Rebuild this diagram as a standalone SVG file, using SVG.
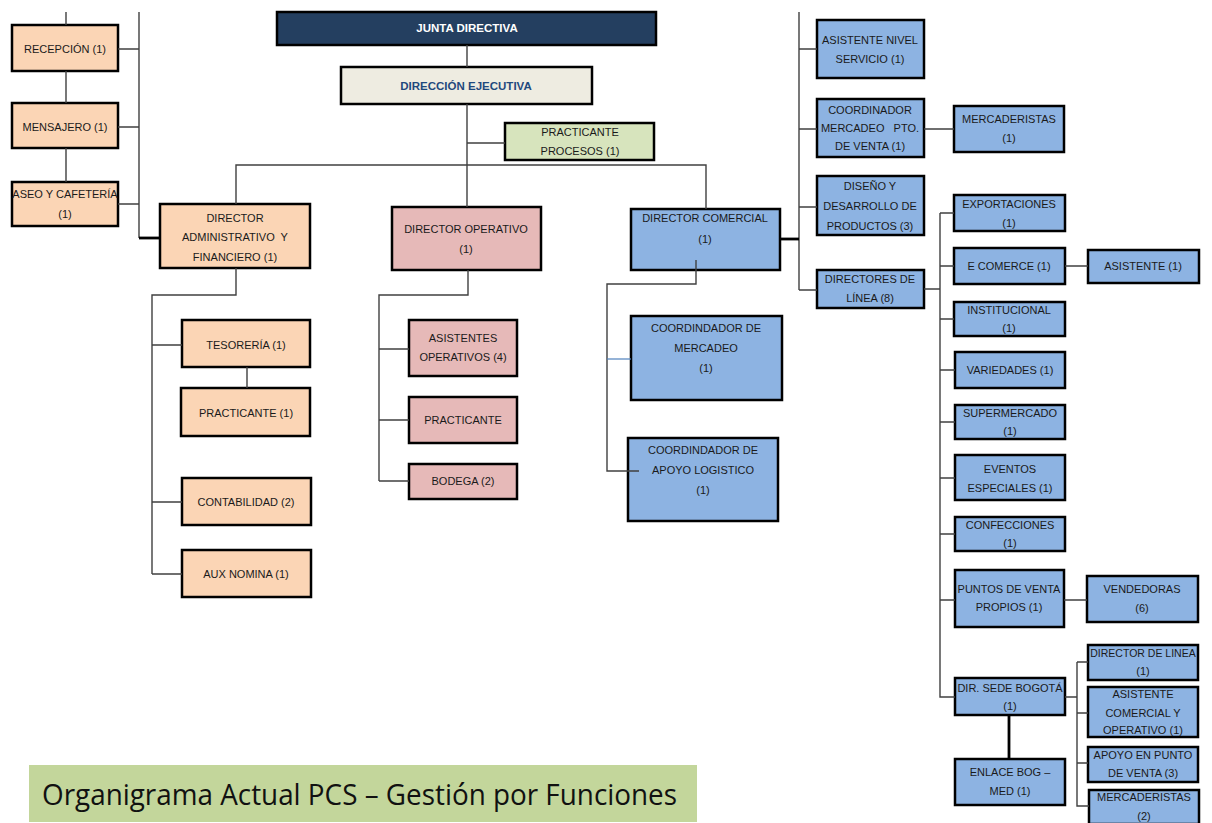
<svg xmlns="http://www.w3.org/2000/svg" width="1212" height="823" viewBox="0 0 1212 823">
<style>
.b{stroke:#000;stroke-width:2.5}
.pe{fill:#FBD5B5}.pk{fill:#E6B9B8}.bl{fill:#8DB3E2}.gr{fill:#D7E4BD}.lt{fill:#EEECE1}.nv{fill:#243F60}
.t{font-family:"Liberation Sans",Arial,sans-serif;font-size:11px;text-anchor:middle;fill:#1a1a1a;white-space:pre}
.c{fill:none;stroke:#404040;stroke-width:1.4}
.k{fill:none;stroke:#000;stroke-width:2.8}
</style>
<rect width="1212" height="823" fill="#fff"/>
<g id="n-recepcion"><rect class="b pe" x="12" y="25" width="106" height="46"/><text class="t" x="65" y="53">RECEPCIÓN (1)</text></g>
<g id="n-mensajero"><rect class="b pe" x="12" y="103" width="106" height="45"/><text class="t" x="65" y="131">MENSAJERO (1)</text></g>
<g id="n-aseo"><rect class="b pe" x="12" y="182" width="106" height="44"/><text class="t" x="65" y="198">ASEO Y CAFETERÍA</text><text class="t" x="65" y="218">(1)</text></g>
<g id="n-dir-admin"><rect class="b pe" x="160" y="204" width="150" height="64"/><text class="t" x="235" y="222">DIRECTOR</text><text class="t" x="235" y="241" xml:space="preserve">ADMINISTRATIVO  Y</text><text class="t" x="235" y="261">FINANCIERO (1)</text></g>
<g id="n-junta"><rect class="b nv" x="277" y="12" width="379" height="33"/><text class="t" x="467" y="32" style="fill:#fff;font-weight:bold;font-size:11.5px">JUNTA DIRECTIVA</text></g>
<g id="n-dir-ejecutiva"><rect class="b lt" x="341" y="67" width="251" height="37"/><text class="t" x="466" y="90" style="fill:#1F497D;font-weight:bold;font-size:11.5px">DIRECCIÓN EJECUTIVA</text></g>
<g id="n-practicante-procesos"><rect class="b gr" x="505" y="123" width="149" height="37"/><text class="t" x="580" y="136">PRACTICANTE</text><text class="t" x="580" y="155">PROCESOS (1)</text></g>
<g id="n-dir-operativo"><rect class="b pk" x="392" y="207" width="149" height="63"/><text class="t" x="466" y="233">DIRECTOR OPERATIVO</text><text class="t" x="466" y="253">(1)</text></g>
<g id="n-dir-comercial"><rect class="b bl" x="631" y="209" width="149" height="61"/><text class="t" x="705" y="222">DIRECTOR COMERCIAL</text><text class="t" x="705" y="243">(1)</text></g>
<g id="n-tesoreria"><rect class="b pe" x="182" y="320" width="128" height="47"/><text class="t" x="246" y="349">TESORERÍA (1)</text></g>
<g id="n-practicante-1"><rect class="b pe" x="181" y="388" width="129" height="48"/><text class="t" x="246" y="417">PRACTICANTE (1)</text></g>
<g id="n-contabilidad"><rect class="b pe" x="182" y="478" width="129" height="47"/><text class="t" x="246" y="506">CONTABILIDAD (2)</text></g>
<g id="n-aux-nomina"><rect class="b pe" x="182" y="550" width="129" height="47"/><text class="t" x="246" y="578">AUX NOMINA (1)</text></g>
<g id="n-asist-operativos"><rect class="b pk" x="409" y="320" width="108" height="56"/><text class="t" x="463" y="342">ASISTENTES</text><text class="t" x="463" y="361">OPERATIVOS (4)</text></g>
<g id="n-practicante-op"><rect class="b pk" x="409" y="397" width="108" height="46"/><text class="t" x="463" y="424">PRACTICANTE</text></g>
<g id="n-bodega"><rect class="b pk" x="409" y="464" width="108" height="35"/><text class="t" x="463" y="485">BODEGA (2)</text></g>
<g id="n-coord-mercadeo"><rect class="b bl" x="631" y="316" width="151" height="84"/><text class="t" x="706" y="332">COORDINDADOR DE</text><text class="t" x="706" y="352">MERCADEO</text><text class="t" x="706" y="372">(1)</text></g>
<g id="n-coord-apoyo"><rect class="b bl" x="628" y="438" width="150" height="83"/><text class="t" x="703" y="454">COORDINDADOR DE</text><text class="t" x="703" y="474">APOYO LOGISTICO</text><text class="t" x="703" y="494">(1)</text></g>
<g id="n-asist-nivel"><rect class="b bl" x="817" y="20" width="107" height="58"/><text class="t" x="870" y="44">ASISTENTE NIVEL</text><text class="t" x="870" y="63">SERVICIO (1)</text></g>
<g id="n-coord-pto"><rect class="b bl" x="817" y="99" width="107" height="58"/><text class="t" x="870" y="114">COORDINADOR</text><text class="t" x="870" y="132" xml:space="preserve">MERCADEO   PTO.</text><text class="t" x="870" y="150">DE VENTA (1)</text></g>
<g id="n-mercaderistas-1"><rect class="b bl" x="954" y="106" width="110" height="46"/><text class="t" x="1009" y="123">MERCADERISTAS</text><text class="t" x="1009" y="142">(1)</text></g>
<g id="n-diseno"><rect class="b bl" x="817" y="176" width="107" height="59"/><text class="t" x="870" y="190">DISEÑO Y</text><text class="t" x="870" y="210">DESARROLLO DE</text><text class="t" x="870" y="230">PRODUCTOS (3)</text></g>
<g id="n-directores-linea"><rect class="b bl" x="817" y="270" width="107" height="38"/><text class="t" x="870" y="283">DIRECTORES DE</text><text class="t" x="870" y="302">LÍNEA (8)</text></g>
<g id="n-exportaciones"><rect class="b bl" x="954" y="195" width="111" height="36"/><text class="t" x="1009" y="208">EXPORTACIONES</text><text class="t" x="1009" y="227">(1)</text></g>
<g id="n-ecomerce"><rect class="b bl" x="954" y="248" width="111" height="36"/><text class="t" x="1009" y="270">E COMERCE (1)</text></g>
<g id="n-asistente-1"><rect class="b bl" x="1088" y="250" width="111" height="33"/><text class="t" x="1143" y="270">ASISTENTE (1)</text></g>
<g id="n-institucional"><rect class="b bl" x="954" y="302" width="111" height="34"/><text class="t" x="1009" y="314">INSTITUCIONAL</text><text class="t" x="1009" y="332">(1)</text></g>
<g id="n-variedades"><rect class="b bl" x="955" y="352" width="110" height="36"/><text class="t" x="1010" y="374">VARIEDADES (1)</text></g>
<g id="n-supermercado"><rect class="b bl" x="955" y="405" width="110" height="34"/><text class="t" x="1010" y="417">SUPERMERCADO</text><text class="t" x="1010" y="435">(1)</text></g>
<g id="n-eventos"><rect class="b bl" x="955" y="455" width="110" height="45"/><text class="t" x="1010" y="473">EVENTOS</text><text class="t" x="1010" y="492">ESPECIALES (1)</text></g>
<g id="n-confecciones"><rect class="b bl" x="955" y="517" width="110" height="34"/><text class="t" x="1010" y="529">CONFECCIONES</text><text class="t" x="1010" y="547">(1)</text></g>
<g id="n-puntos-venta"><rect class="b bl" x="955" y="570" width="109" height="57"/><text class="t" x="1009" y="593">PUNTOS DE VENTA</text><text class="t" x="1009" y="611">PROPIOS (1)</text></g>
<g id="n-vendedoras"><rect class="b bl" x="1087" y="576" width="111" height="46"/><text class="t" x="1142" y="593">VENDEDORAS</text><text class="t" x="1142" y="612">(6)</text></g>
<g id="n-dir-sede"><rect class="b bl" x="955" y="678" width="110" height="37"/><text class="t" x="1010" y="692">DIR. SEDE BOGOTÁ</text><text class="t" x="1010" y="710">(1)</text></g>
<g id="n-director-linea-1"><rect class="b bl" x="1088" y="645" width="110" height="35"/><text class="t" x="1143" y="657" style="font-size:10.5px">DIRECTOR DE LINEA</text><text class="t" x="1143" y="675">(1)</text></g>
<g id="n-asist-comercial"><rect class="b bl" x="1088" y="687" width="110" height="50"/><text class="t" x="1143" y="698">ASISTENTE</text><text class="t" x="1143" y="717">COMERCIAL Y</text><text class="t" x="1143" y="734">OPERATIVO (1)</text></g>
<g id="n-apoyo-punto"><rect class="b bl" x="1088" y="747" width="110" height="35"/><text class="t" x="1143" y="759">APOYO EN PUNTO</text><text class="t" x="1143" y="777">DE VENTA (3)</text></g>
<g id="n-mercaderistas-2"><rect class="b bl" x="1089" y="790" width="110" height="34"/><text class="t" x="1144" y="801">MERCADERISTAS</text><text class="t" x="1144" y="820">(2)</text></g>
<g id="n-enlace"><rect class="b bl" x="955" y="759" width="110" height="46"/><text class="t" x="1010" y="776">ENLACE BOG –</text><text class="t" x="1010" y="795">MED (1)</text></g>
<g id="connectors">
<path class="c" d="M66,12V25M66,71V103M66,148V182M139,12V238M118,49H139M118,127H139M118,204H139"/>
<path class="k" d="M139,238H160"/>
<path class="c" d="M236,204V165H706V209M467,45V67M467,104V207M467,143H505"/>
<path class="c" d="M236,268V295H152V574M152,345H182M152,502H182M152,574H182M247,367V388"/>
<path class="c" d="M468,270V295H379V481M379,349H409M379,420H409M379,481H409"/>
<path class="c" d="M696,260V284H607V471H639"/>
<path d="M607,359H631" fill="none" stroke="#4F81BD" stroke-width="1.2"/>
<path class="c" d="M799,12V290M799,49H817M799,129H817M924,129H954M799,207H817M799,290H817"/>
<path class="k" d="M780,239H799"/>
<path class="c" d="M924,289H940M940,213V697H955M940,213H954M940,266H954M1065,266H1088M940,319H954M940,370H955M940,422H955M940,478H955M940,534H955M940,600H955M1064,600H1087"/>
<path class="c" d="M1065,697H1077M1077,662V806H1089M1077,662H1088M1077,713H1088M1077,763H1088"/>
<path class="k" d="M1009,715V759"/>
</g>
<g id="title"><rect x="29" y="765" width="668" height="57" fill="#C3D69B"/><text x="42" y="805" textLength="635" lengthAdjust="spacingAndGlyphs" style="font-family:'Open Sans','Liberation Sans',sans-serif;font-size:29px;font-weight:500;fill:#111">Organigrama Actual PCS – Gestión por Funciones</text></g>
</svg>
